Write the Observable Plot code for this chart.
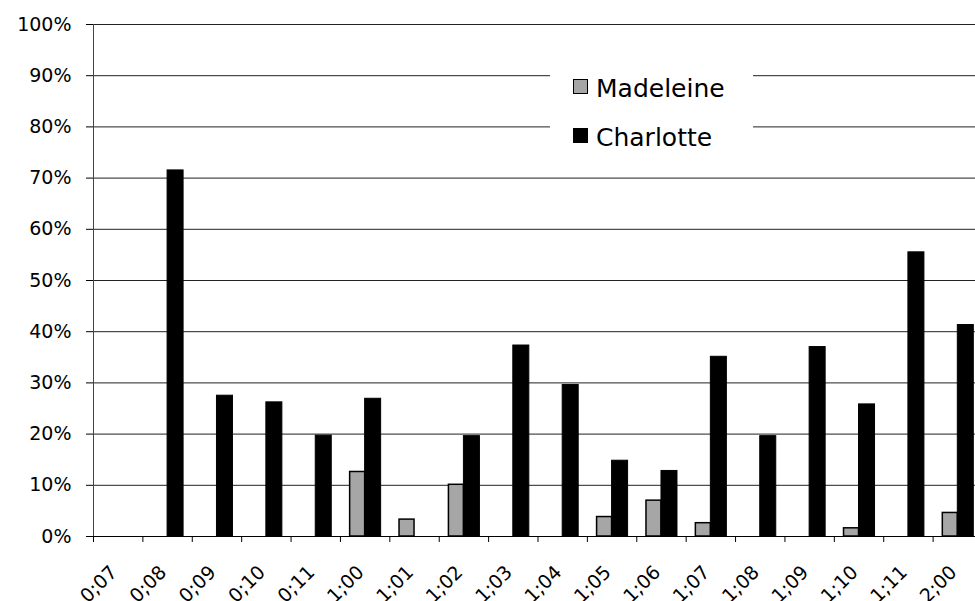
<!DOCTYPE html>
<html><head><meta charset="utf-8">
<script src="https://cdn.jsdelivr.net/npm/d3@7"></script>
<script src="https://cdn.jsdelivr.net/npm/@observablehq/plot@0.6"></script>
<style>
html,body{margin:0;padding:0;background:#fff;overflow:hidden}
#wrap{position:relative;width:975px;height:601px;overflow:hidden}
#legend{position:absolute;left:550px;top:56px;width:203px;height:98px;background:#fff;font-family:'DejaVu Sans',Verdana,sans-serif;font-size:25px;line-height:25px;color:#000}
.sw{position:absolute;left:23px;width:13px;height:13px;border:1.5px solid #000}
.lb{position:absolute;left:46px;white-space:nowrap}
</style></head><body><div id="wrap"></div>
<script>
const categories = ["0;07","0;08","0;09","0;10","0;11","1;00","1;01","1;02","1;03","1;04","1;05","1;06","1;07","1;08","1;09","1;10","1;11","2;00"];
const madeleine = [0,0,0,0,0,12.6,3.3,10.1,0,0,3.8,7.0,2.6,0,0,1.6,0,4.6];
const charlotte = [0,71.5,27.5,26.2,19.7,26.9,0,19.6,37.3,29.6,14.8,12.8,35.1,19.6,37.0,25.8,55.5,41.3];
const seriesNames = ["Madeleine","Charlotte"];
const seriesColors = ["#a6a6a6","#000000"];
const yTicks = [0,10,20,30,40,50,60,70,80,90,100];

const W=975,H=601,ML=93,MR=-7,MT=24,MB=65;
const bw=(W-ML-MR)/categories.length;
const barW=15;
const rows = categories.flatMap((c,i)=>[
  {cat:c, series:seriesNames[0], value:madeleine[i]},
  {cat:c, series:seriesNames[1], value:charlotte[i]}
]);

const plot = Plot.plot({
  width:W, height:H, marginLeft:ML, marginRight:MR, marginTop:MT, marginBottom:MB,
  style:{fontFamily:"'DejaVu Sans', Verdana, sans-serif", fontSize:"19px", background:"#fff", color:"#000"},
  x:{type:"band", domain:categories, padding:0, round:false, axis:null, label:null},
  y:{domain:[0,100], axis:null, label:null},
  marks:[
    Plot.ruleY(yTicks.filter(d=>d>0), {stroke:"#222", strokeWidth:1}),
    Plot.barY(rows.filter(d=>d.series===seriesNames[0] && d.value>0), {x:"cat", y:"value", fill:seriesColors[0], stroke:"#000", strokeWidth:1.5, insetLeft:bw/2-barW, insetRight:bw/2}),
    Plot.barY(rows.filter(d=>d.series===seriesNames[1] && d.value>0), {x:"cat", y:"value", fill:seriesColors[1], stroke:"#000", strokeWidth:1, insetLeft:bw/2, insetRight:bw/2-barW-1}),
    Plot.ruleY([0], {stroke:"#000"}),
    Plot.ruleX([categories[0]], {dx:-bw/2, y1:0, y2:100, stroke:"#444"}),
    Plot.axisY({ticks:yTicks, tickSize:7, tickPadding:15, tickFormat:d=>d+"%", label:null}),
    Plot.axisX({ticks:categories, tickSize:6, tickFormat:()=>"", dx:-bw/2, label:null}),
    Plot.text(categories, {x:d=>d, y:()=>0, text:d=>d, rotate:-45, textAnchor:"end", lineAnchor:"bottom", dy:37, fill:"#000"})
  ]
});
const wrap = document.getElementById("wrap");
wrap.appendChild(plot);
const legend = document.createElement("div");
legend.id = "legend";
seriesNames.forEach((name,i)=>{
  const sw = document.createElement("div");
  sw.className = "sw";
  sw.style.top = (23 + i*49) + "px";
  sw.style.background = seriesColors[i];
  legend.appendChild(sw);
  const lb = document.createElement("div");
  lb.className = "lb";
  lb.style.top = (19.5 + i*49.3) + "px";
  lb.textContent = name;
  legend.appendChild(lb);
});
wrap.appendChild(legend);
</script></body></html>
